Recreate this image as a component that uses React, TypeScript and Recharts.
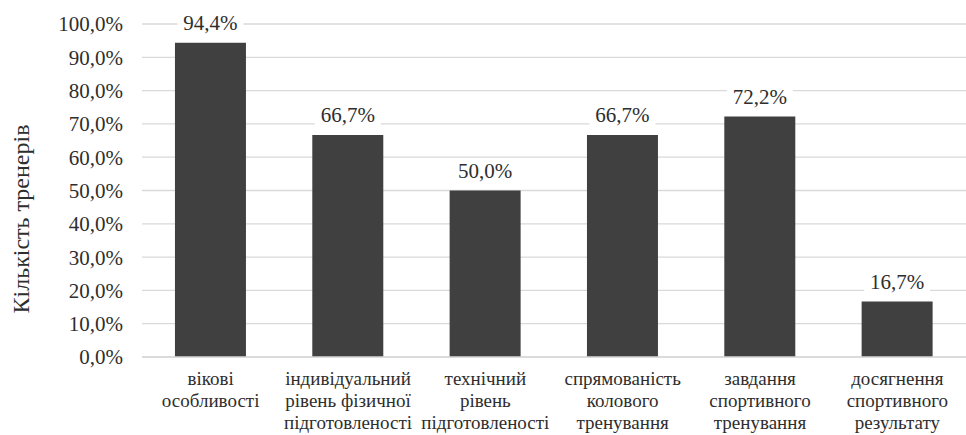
import { BarChart, Bar, XAxis, YAxis, CartesianGrid, LabelList, Label } from "recharts"

const categories = [
  ["вікові", "особливості"],
  ["індивідуальний", "рівень фізичної", "підготовленості"],
  ["технічний", "рівень", "підготовленості"],
  ["спрямованість", "колового", "тренування"],
  ["завдання", "спортивного", "тренування"],
  ["досягнення", "спортивного", "результату"],
]
const values = [94.4, 66.7, 50.0, 66.7, 72.2, 16.7]
const yTicks = [0, 10, 20, 30, 40, 50, 60, 70, 80, 90, 100]

const data = categories.map((lines, i) => ({ name: lines.join(" "), lines, value: values[i] }))

const FONT = "Liberation Serif, Times New Roman, serif"
const TEXT = "#2e2e2e"
const serif = { fontFamily: FONT }

const fmt = (v: number) => v.toFixed(1).replace(".", ",") + "%"

function CategoryTick(props: any) {
  const { x, y, payload } = props
  const lines = categories[payload.index] || []
  return (
    <text x={x} y={y} textAnchor="middle" style={serif} fontSize={19} fill={TEXT}>
      {lines.map((l, i) => (
        <tspan key={i} x={x} dy={i === 0 ? 28 : 22}>{l}</tspan>
      ))}
    </text>
  )
}

function ValueLabel(props: any) {
  const { x, y, width, value } = props
  const cx = x + width / 2
  const cy = y - 20
  const w = 66
  return (
    <g>
      <rect x={cx - w / 2} y={cy - 12} width={w} height={24} fill="#fff" />
      <text x={cx} y={cy} dy="0.35em" textAnchor="middle" style={serif} fontSize={21} fill={TEXT}>
        {fmt(value)}
      </text>
    </g>
  )
}

function AxisTitle() {
  const cx = 21
  const cy = 219
  return (
    <text x={cx} y={cy} transform={`rotate(-90, ${cx}, ${cy})`} textAnchor="middle" dy="0.35em" style={serif} fontSize={24} fill={TEXT}>
      Кількість тренерів
    </text>
  )
}

export default function App() {
  return (
    <div style={{ width: 966, height: 435, background: "#fff", fontFamily: FONT }}>
      <style>{`body{margin:0}`}</style>
      <BarChart width={966} height={435} data={data} margin={{ top: 24, right: 0, left: 0, bottom: 0 }} barCategoryGap="24%">
        <CartesianGrid vertical={false} stroke="#d9d9d9" strokeWidth={1.3} />
        <XAxis
          dataKey="name"
          height={78}
          interval={0}
          tickLine={false}
          tickSize={0}
          tickMargin={0}
          axisLine={{ stroke: "#d9d9d9", strokeWidth: 1.3 }}
          tick={<CategoryTick />}
        />
        <YAxis
          width={142}
          domain={[0, 100]}
          ticks={yTicks}
          tickFormatter={fmt}
          axisLine={false}
          tickLine={false}
          tickSize={0}
          tickMargin={19}
          tick={{ style: serif, fontSize: 21, fill: TEXT }}
        >
          <Label content={<AxisTitle />} />
        </YAxis>
        <Bar dataKey="value" fill="#404040" isAnimationActive={false}>
          <LabelList dataKey="value" content={<ValueLabel />} />
        </Bar>
      </BarChart>
    </div>
  )
}
